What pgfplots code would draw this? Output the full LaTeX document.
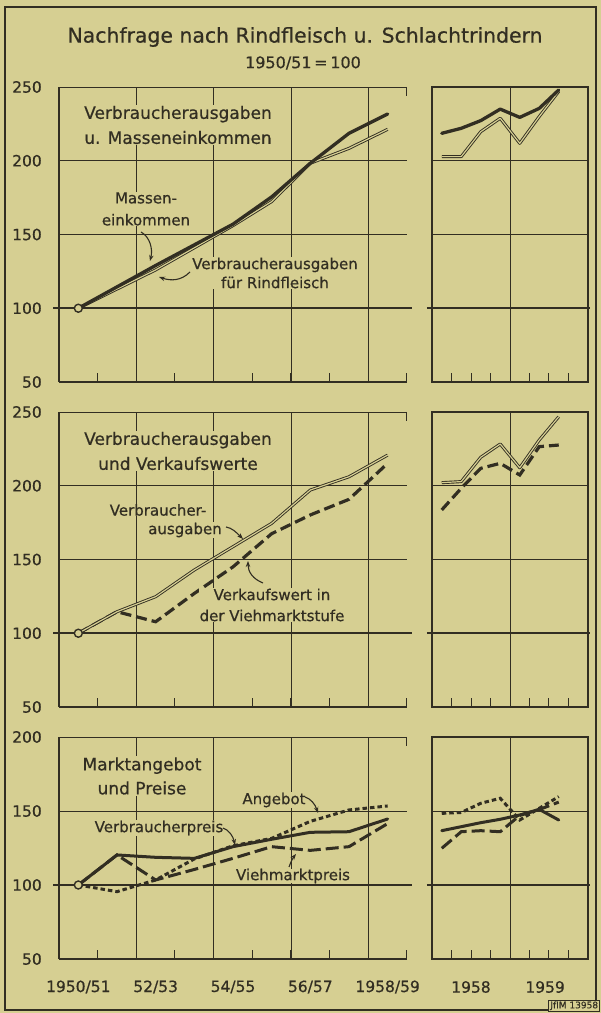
\documentclass[border=0pt]{standalone}
\usepackage{pgfplots}
\pgfplotsset{compat=1.18}
\usepackage{fontspec}
\setmainfont{DejaVu Sans}[FakeBold=0.6]
\usetikzlibrary{arrows.meta}
\definecolor{bg}{RGB}{214,207,146}
\definecolor{ink}{RGB}{50,46,34}
\pgfplotsset{
  base/.style={
    scale only axis, clip=false,
    axis line style={ink, line width=1.1pt, -},
    every outer x axis line/.append style={-},
    every outer y axis line/.append style={-},
    grid style={ink, line width=0.9pt},
    tick style={ink, line width=1pt},
    tick align=inside,
    /pgf/number format/assume math mode=true,
    tick label style={font=\fontsize{15.5}{16}\selectfont, text=ink},
    ytick style={/pgfplots/major tick length=0pt},
    ymajorgrids,
    major tick length=9pt, minor tick length=9pt,
    xticklabel style={anchor=center, yshift=-28pt},
  },
  leftp/.style={base, width=348pt, xmin=-0.5, xmax=8.5,
    axis x line*=bottom, axis y line*=left,
    xtick={1.5,3.5,5.5,7.5}, xticklabels={}, xmajorgrids,
    minor xtick={0.5,2.5,4.5,6.5,8.5},
    yticklabel style={anchor=east, xshift=-17pt, inner sep=0pt},
  },
  rightp/.style={base, width=156pt, xmin=0.5, xmax=8.5,
    xtick={4.5}, xticklabels={}, xmajorgrids,
    minor xtick={1.5,2.5,3.5,5.5,6.5,7.5},
    xtick pos=left, ytick pos=left, yticklabels={},
  },
  thickl/.style={ink, line width=3.3pt, line join=round, line cap=round},
  dbl/.style={ink, line width=0.9pt, double=bg, double distance=1.2pt, line join=round},
  dashl/.style={ink, line width=3.2pt, dash pattern=on 11pt off 5pt},
  dotl/.style={ink, line width=3pt, dash pattern=on 4.5pt off 3pt},
  longd/.style={ink, line width=3pt, dash pattern=on 13pt off 5pt},
  hundred/.style={ink, line width=2.4pt},
  cornertick/.style={ink, line width=1pt},
  startmark/.style={ink, line width=1.4pt, mark=*, mark size=4pt, mark options={fill=bg}, only marks},
}
\begin{document}
\begin{tikzpicture}[every node/.style={text=ink}]
\fill[bg] (0,0) rectangle (601pt,1013pt);

% ---------------- Panel 1 left
\begin{axis}[leftp, at={(59pt,631pt)}, anchor=south west, height=295pt,
  ymin=50, ymax=250, ytick={50,100,150,200,250}]
\addplot[hundred] coordinates {(-0.655,100) (8.63,100)};
\addplot[dbl] coordinates {(0,100)(1,113)(2,126)(3,141)(4,156)(5,172.3)(6,198.3)(7,208.4)(8,221.3)};
\addplot[thickl] coordinates {(0,100)(1,114.5)(2,129)(3,143)(4,157)(5,175.5)(6,198.3)(7,218.6)(8,231.7)};
\addplot[startmark] coordinates {(0,100)};
\addplot[cornertick] coordinates {(8.5,250) (8.5,243.9)};
\end{axis}
% ---------------- Panel 1 right
\begin{axis}[rightp, at={(432pt,631pt)}, anchor=south west, height=295pt,
  ymin=50, ymax=250, ytick={50,100,150,200,250}]
\addplot[hundred] coordinates {(0.24,100) (8.6,100)};
\addplot[dbl] coordinates {(1,202.8)(2,202.8)(3,219.7)(4,228.8)(5,211.8)(6,230)(7,247)};
\addplot[thickl] coordinates {(1,218.6)(2,222)(3,227.2)(4,235)(5,229.4)(6,235.5)(7,248)};
\end{axis}

% ---------------- Panel 2 left
\begin{axis}[leftp, at={(59pt,306pt)}, anchor=south west, height=295pt,
  ymin=50, ymax=250, ytick={50,100,150,200,250}]
\addplot[hundred] coordinates {(-0.655,100) (8.63,100)};
\addplot[dashl] coordinates {(0,100)(1,114.6)(2,107.8)(3,127)(4,145)(5,167.5)(6,180.2)(7,190.8)(8,215.2)};
\addplot[dbl] coordinates {(0,100)(1,114.6)(2,124.8)(3,142.9)(4,158.7)(5,174.5)(6,197.1)(7,206.1)(8,220.8)};
\addplot[startmark] coordinates {(0,100)};
\addplot[cornertick] coordinates {(8.5,250) (8.5,243.9)};
\end{axis}
% ---------------- Panel 2 right
\begin{axis}[rightp, at={(432pt,306pt)}, anchor=south west, height=295pt,
  ymin=50, ymax=250, ytick={50,100,150,200,250}]
\addplot[hundred] coordinates {(0.24,100) (8.6,100)};
\addplot[dbl] coordinates {(1,202.1)(2,202.8)(3,219.3)(4,228.3)(5,212.2)(6,231)(7,246.8)};
\addplot[dashl] coordinates {(1,183.6)(2,198.3)(3,211.8)(4,215.2)(5,207.3)(6,226.5)(7,227.6)};
\end{axis}

% ---------------- Panel 3 left
\begin{axis}[leftp, at={(59pt,54pt)}, anchor=south west, height=222pt,
  ymin=50, ymax=200, ytick={50,100,150,200},
  extra x ticks={0,2,4,6,8},
  extra x tick labels={1950/51,52/53,54/55,56/57,1958/59},
  extra x tick style={grid=none, major tick length=0pt}]
\addplot[hundred] coordinates {(-0.655,100) (8.63,100)};
\addplot[longd] coordinates {(0,100)(1,120.3)(2,103.4)(3,110.5)(4,118)(5,125.9)(6,123.4)(7,125.9)(8,141.5)};
\addplot[dotl] coordinates {(0,100)(1,95.5)(2,103.4)(3,117.6)(4,126.5)(5,131.5)(6,143)(7,150.7)(8,153.4)};
\addplot[thickl, line width=3pt] coordinates {(0,100)(1,120.3)(2,118.7)(3,118)(4,125.9)(5,130.9)(6,135.6)(7,136)(8,144.6)};
\addplot[startmark] coordinates {(0,100)};
\addplot[cornertick] coordinates {(8.5,200) (8.5,193.9)};
\end{axis}
% ---------------- Panel 3 right
\begin{axis}[rightp, at={(432pt,54pt)}, anchor=south west, height=222pt,
  ymin=50, ymax=200, ytick={50,100,150,200},
  extra x ticks={2.5,6.3},
  extra x tick labels={1958,1959},
  extra x tick style={grid=none, major tick length=0pt}]
\addplot[hundred] coordinates {(0.24,100) (8.6,100)};
\addplot[dotl] coordinates {(1,148.4)(2,149)(3,155.2)(4,158.6)(5,143.9)(6,151.8)(7,159.7)};
\addplot[longd] coordinates {(1,124.8)(2,136)(3,136.7)(4,136)(5,147)(6,151)(7,156)};
\addplot[thickl, line width=3pt] coordinates {(1,136.7)(2,139.4)(3,142.1)(4,144.4)(5,147.3)(6,151.1)(7,143.9)};
\end{axis}

% ---------------- Texts and arrows (pixel coordinates, y downwards)
\begin{scope}[x=1pt, y=-1pt, yshift=1013pt]
\draw[ink, line width=1.2pt] (5,7) rectangle (596,1010);
\node[font=\fontsize{20.4}{24}\selectfont] at (305,37) {Nachfrage nach Rindfleisch u. Schlachtrindern};
\node[font=\fontsize{16}{18}\selectfont] at (303,63) {1950/51\,=\,100};

\tikzset{lab/.style={fill=bg, inner sep=1pt, align=center, font=\fontsize{17}{25}\selectfont},
         ann/.style={fill=bg, inner sep=0.5pt, align=center, font=\fontsize{15}{20}\selectfont},
         arr/.style={ink, line width=1.1pt, -{Stealth[length=6pt,width=4.5pt]}}}

\node[lab] at (178,125) {Verbraucherausgaben\\u. Masseneinkommen};
\node[ann, font=\fontsize{15}{22}\selectfont] at (146,209) {Massen-\\einkommen};
\node[ann, font=\fontsize{15}{19}\selectfont] at (275,273) {Verbraucherausgaben\\für Rindfleisch};
\draw[arr] (141,232) .. controls (150,237) and (153,249) .. (150,261);
\draw[arr] (190,272) .. controls (181,281) and (171,281) .. (159,277);

\node[lab] at (178,451) {Verbraucherausgaben\\und Verkaufswerte};
\node[ann] at (158,510) {Verbraucher-};
\node[ann] at (185,530) {ausgaben};
\draw[arr] (226,527) .. controls (232,528) and (236,532) .. (243,539);
\node[ann, font=\fontsize{15}{21}\selectfont] at (272,605) {Verkaufswert in\\der Viehmarktstufe};
\draw[arr] (263,583) .. controls (253,579) and (248,572) .. (248,561);

\node[lab, font=\fontsize{17}{24}\selectfont] at (142,776) {Marktangebot\\und Preise};
\node[ann] at (274,800) {Angebot};
\draw[arr] (305,797) .. controls (311,799) and (315,804) .. (318,813);
\node[ann] at (159,828) {Verbraucherpreis};
\draw[arr] (223,828) .. controls (229,830) and (233,836) .. (235,845);
\node[ann, inner sep=0pt] at (293,876) {Viehmarktpreis};
\draw[arr] (289,867) .. controls (291,862) and (292,859) .. (296,854);

\node[draw=ink, line width=0.8pt, fill=bg, font=\fontsize{9}{10}\selectfont, inner sep=1.5pt, anchor=south east] at (600,1012) {JfIM 13958};
\end{scope}
\end{tikzpicture}
\end{document}
